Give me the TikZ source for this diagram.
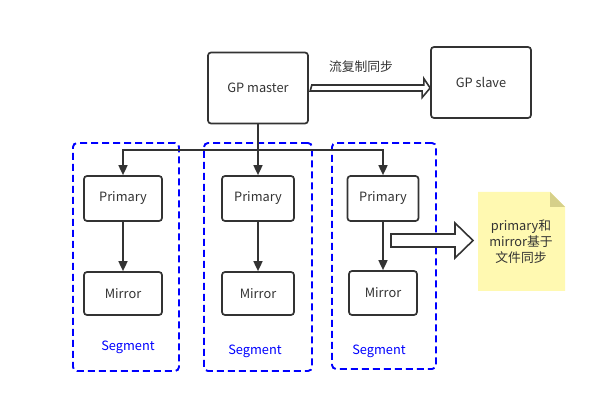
\documentclass[tikz,border=0pt]{standalone}
\usepackage{fontspec}
\setmainfont{Noto Sans CJK SC}
\usetikzlibrary{arrows.meta,calc}
\definecolor{ink}{HTML}{333333}
\definecolor{segblue}{HTML}{0000FF}
\definecolor{notefill}{HTML}{FFF9B1}
\definecolor{notefold}{HTML}{D6D08A}
\tikzset{
  box/.style={draw=ink,line width=1.7pt,rounded corners=3pt,fill=white,text=ink,font=\fontsize{12.8}{15}\selectfont,inner sep=0pt},
  seg/.style={draw=segblue,line width=1.9pt,dash pattern=on 7pt off 4pt,rounded corners=4pt,inner sep=0pt},
  seglabel/.style={text=segblue,font=\fontsize{12.8}{15}\selectfont,inner sep=0pt},
  conn/.style={draw=ink,line width=1.7pt,-{Triangle[length=10pt,width=9pt]}},
  plain/.style={draw=ink,line width=1.7pt},
  hollow/.style={draw=ink,line width=1.6pt,fill=white,line join=miter},
  lbl/.style={text=ink,font=\fontsize{12.8}{15}\selectfont,inner sep=0pt}
}
\begin{document}
\begin{tikzpicture}[x=1pt,y=-1pt]
\useasboundingbox[fill=white] (0,0) rectangle (598,403);
% segment frames
\node[seg,minimum width=106pt,minimum height=228pt] (s1) at (126,257) {};
\node[seg,minimum width=108pt,minimum height=228pt] (s2) at (258,257) {};
\node[seg,minimum width=104pt,minimum height=226pt] (s3) at (384,256) {};
\node[seglabel] (s1l) at (128,347) {Segment};
\node[seglabel] (s2l) at (255,351) {Segment};
\node[seglabel] (s3l) at (379,351) {Segment};
% master / slave
\node[box,minimum width=100pt,minimum height=71pt] (master) at (258,88) {GP master};
\node[box,minimum width=100pt,minimum height=71pt] (slave) at (481,82.5) {GP slave};
\node[lbl] (replbl) at (361,67) {流复制同步};
% primaries / mirrors
\node[box,minimum width=78pt,minimum height=45pt] (p1) at (123,198.5) {Primary};
\node[box,minimum width=78pt,minimum height=43pt] (m1) at (123,293.5) {Mirror};
\node[box,minimum width=72pt,minimum height=45pt] (p2) at (258,198.5) {Primary};
\node[box,minimum width=72pt,minimum height=43pt] (m2) at (258,293.5) {Mirror};
\node[box,minimum width=71pt,minimum height=45pt] (p3) at (383,198.5) {Primary};
\node[box,minimum width=68pt,minimum height=44pt] (m3) at (383,293) {Mirror};
% note
\coordinate (nTL) at (478,192);
\coordinate (nBR) at (565,291);
\fill[notefill] (478,192) -- (550,192) -- (565,207) -- (565,291) -- (478,291) -- cycle;
\fill[notefold] (550,192) -- (565,207) -- (550,207) -- cycle;
\node[lbl,align=center,font=\fontsize{12.8}{16}\selectfont] (note) at (521,242) {primary和\\mirror基于\\文件同步};
% connectors
\coordinate (jn) at ($(master.south)+(0,26)$);
\draw[plain] (master.south) -- (jn);
\draw[conn] (jn) -| (p1.north);
\draw[conn] (jn) -| (p3.north);
\draw[conn] (master.south) -- (p2.north);
\draw[conn] (p1.south) -- (m1.north);
\draw[conn] (p2.south) -- (m2.north);
\draw[conn] (p3.south) -- (m3.north);
% hollow arrows
\draw[hollow] ($(master.east)+(3,-3)$) -- ++(112,0) -- ++(0,-6.5) -- (slave.west |- master.east) -- ++(-8,9.5) -- ++(0,-6.5) -- ++(-112,0) -- cycle;
\coordinate (na) at (391,240.5);
\draw[hollow] ($(na)+(0,-6.5)$) -- ++(64,0) -- ++(0,-11) -- ($(nTL |- na)+(-5,0)$) -- ++(-18,17.5) -- ++(0,-11) -- ++(-64,0) -- cycle;
\end{tikzpicture}
\end{document}
